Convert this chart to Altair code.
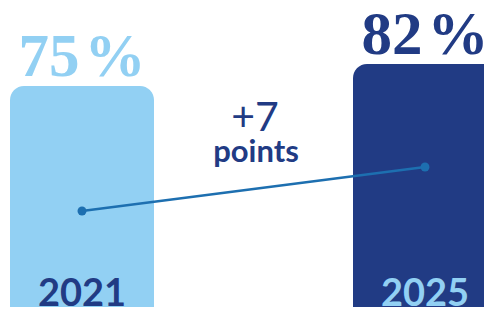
import altair as alt
import pandas as pd

years = [2021, 2025]
shares = [75, 82]
share_labels = ["75\u200a%", "82\u200a%"]
bar_colors = ["#92D0F3", "#213B84"]
year_colors = ["#213B84", "#92D0F3"]
change_text = ["+7"]
change_unit = ["points"]
base_value = 0

df = pd.DataFrame({
    "year": years,
    "year_label": [str(y) for y in years],
    "share": shares,
    "label": share_labels,
    "bar_color": bar_colors,
    "year_color": year_colors,
    "base": [base_value] * len(years),
})
notes = pd.DataFrame({"change": change_text, "unit": change_unit})

W, H = 476, 299

xscale = alt.Scale(domain=[2020.137, 2025.688], nice=False, zero=False, padding=0)
xenc = alt.X("year:Q", axis=None, scale=xscale)
yscale = alt.Scale(domain=[4.69, 99.82], nice=False, zero=False, padding=0)

bars = alt.Chart(df).mark_bar(cornerRadius=14, clip=True, width=144).encode(
    x=xenc,
    y=alt.Y("share:Q", scale=yscale, axis=None),
    y2="base:Q",
    color=alt.Color("bar_color:N", scale=None),
)

values = alt.Chart(df).mark_text(
    font="Liberation Serif", fontWeight="bold", fontSize=61,
    baseline="alphabetic", dy=-10,
).encode(
    x=xenc,
    y=alt.Y("share:Q", scale=yscale, axis=None),
    text="label:N",
    color=alt.Color("bar_color:N", scale=None),
)

year_text = alt.Chart(df).mark_text(
    font="Lato", fontWeight="bold", fontSize=38,
    baseline="alphabetic", dy=-1,
).encode(
    x=xenc,
    y=alt.value(H),
    text="year_label:N",
    color=alt.Color("year_color:N", scale=None),
)

main = alt.layer(bars, values, year_text)

slope_scale = alt.Scale(domain=[59.73, 107.3], nice=False, zero=False, padding=0)
slope_line = alt.Chart(df).mark_line(color="#1D6FB0", strokeWidth=2.5).encode(
    x=xenc,
    y=alt.Y("share:Q", scale=slope_scale, axis=None),
)
slope_pts = alt.Chart(df).mark_point(filled=True, color="#1D6FB0", size=80, opacity=1).encode(
    x=xenc,
    y=alt.Y("share:Q", scale=slope_scale, axis=None),
)
slope = alt.layer(slope_line, slope_pts)

note1 = alt.Chart(notes).mark_text(
    font="Lato", fontSize=41, color="#213B84", baseline="alphabetic"
).encode(x=alt.value(247), y=alt.value(123), text="change:N")
note2 = alt.Chart(notes).mark_text(
    font="Lato", fontWeight="bold", fontSize=31, color="#213B84", baseline="alphabetic"
).encode(x=alt.value(248), y=alt.value(154), text="unit:N")

chart = alt.layer(main, slope, note1, note2).resolve_scale(y="independent").properties(
    width=W, height=H, padding=0, autosize=alt.AutoSizeParams(type="none"),
    background="white",
).configure_view(stroke=None)

chart.save("out.html", embed_options={"renderer": "svg", "actions": False})
